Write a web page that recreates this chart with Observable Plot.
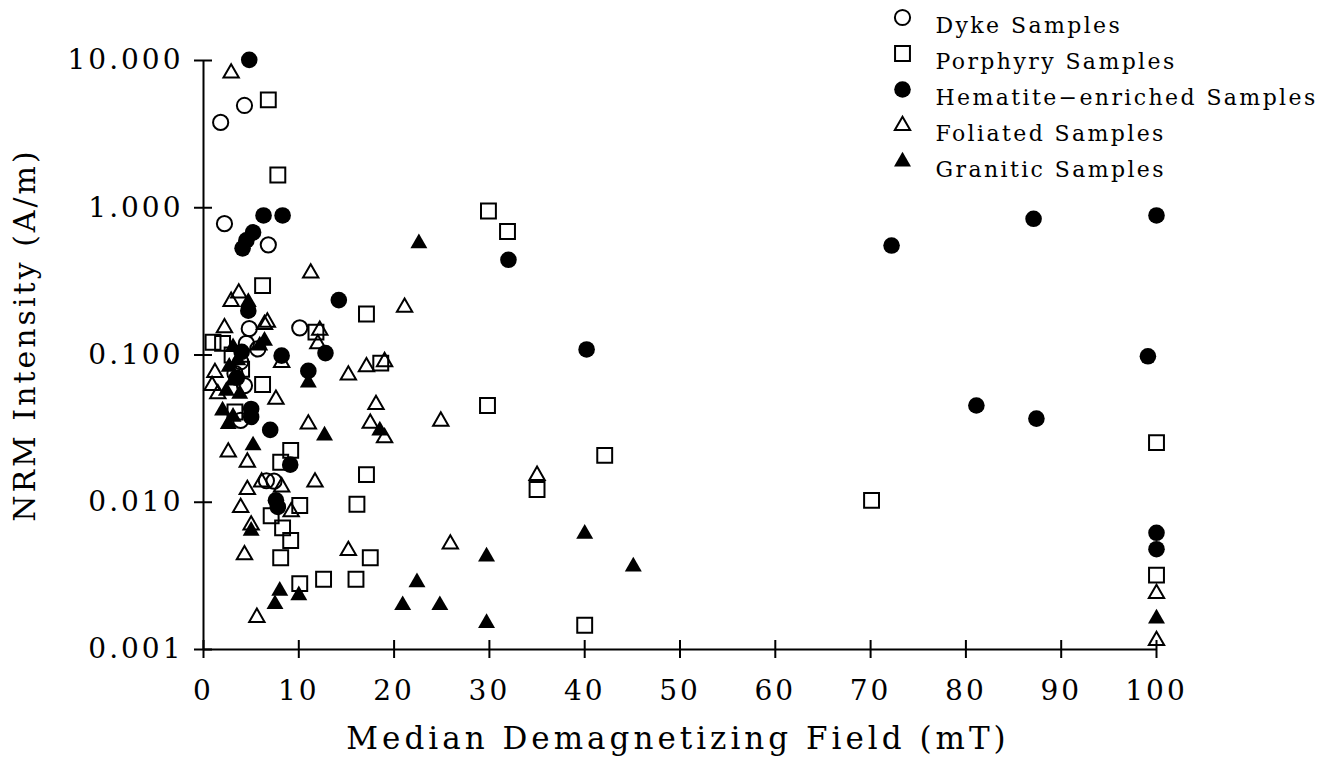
<!DOCTYPE html>
<html><head><meta charset="utf-8">
<script src="https://cdn.jsdelivr.net/npm/d3@7"></script>
<script src="https://cdn.jsdelivr.net/npm/@observablehq/plot@0.6"></script>
<style>
html,body{margin:0;padding:0;background:#fff}
svg{display:block}
</style>
</head><body><div id="chart"></div>
<script>
// [Median demagnetizing field (mT), NRM intensity (A/m)]
const dyke = [[1.8,3.8],[4.3,4.95],[2.2,0.78],[6.8,0.56],[4.8,0.151],[10.1,0.153],[4.5,0.12],[5.7,0.11],
  [3.3,0.075],[3.9,0.09],[4.3,0.062],[3.9,0.036],[6.6,0.014],[7.4,0.0139]];
const porphyry = [[6.8,5.4],[7.8,1.67],[29.9,0.95],[31.9,0.69],[6.2,0.296],[17.1,0.19],[1.0,0.122],[2.0,0.12],
  [11.8,0.143],[18.6,0.088],[6.2,0.063],[3.0,0.1],[4.0,0.08],[3.3,0.041],[29.8,0.0454],[9.15,0.0225],[8.1,0.0187],
  [17.1,0.0154],[42.1,0.0208],[35.0,0.0122],[16.1,0.0097],[10.1,0.0095],[7.1,0.0081],[8.3,0.0067],[9.15,0.0055],
  [8.1,0.0042],[17.5,0.0042],[10.1,0.0028],[12.6,0.003],[16.0,0.003],[40.0,0.00146],[70.1,0.0103],[100,0.0254],[100,0.0032]];
const hematite = [[4.8,10.1],[6.3,0.886],[8.3,0.886],[5.2,0.68],[4.5,0.6],[4.1,0.53],[14.2,0.236],[4.7,0.2],
  [8.2,0.099],[12.8,0.103],[11.0,0.078],[32.0,0.443],[40.2,0.109],[72.2,0.554],[87.1,0.841],[81.1,0.0454],
  [87.4,0.037],[100,0.886],[99.1,0.098],[100,0.0062],[100,0.0048],[5.0,0.038],[7.0,0.031],[9.1,0.018],
  [7.6,0.0103],[7.8,0.0093],[3.5,0.07],[4.0,0.105],[5.0,0.043]];
const foliated = [[2.9,8.2],[11.25,0.36],[2.9,0.231],[3.7,0.263],[6.7,0.167],[6.4,0.161],[2.2,0.153],[12.2,0.147],
  [12.0,0.119],[21.1,0.211],[8.2,0.089],[15.2,0.073],[7.6,0.05],[1.2,0.076],[0.9,0.062],[1.5,0.0545],[17.1,0.083],
  [19.0,0.09],[18.1,0.046],[17.5,0.0344],[19.0,0.0274],[24.9,0.0355],[11.0,0.034],[2.6,0.0219],[4.6,0.0187],
  [11.7,0.0137],[6.1,0.0137],[8.2,0.0127],[4.6,0.0122],[3.9,0.0092],[9.2,0.0086],[5.0,0.007],[4.3,0.0044],
  [5.6,0.00165],[15.2,0.0047],[25.9,0.0052],[35.0,0.0152],[100,0.0024],[100,0.00115]];
const granitic = [[4.7,0.229],[22.6,0.574],[3.1,0.113],[3.6,0.092],[2.7,0.083],[3.1,0.067],[2.4,0.057],[3.8,0.0545],
  [2.0,0.042],[3.1,0.038],[5.9,0.116],[6.4,0.125],[11.0,0.065],[12.7,0.0284],[18.5,0.0307],[5.2,0.0243],[2.6,0.034],
  [5.0,0.0064],[8.0,0.0025],[7.5,0.00203],[10.0,0.00233],[20.9,0.002],[24.8,0.002],[22.4,0.00286],[29.7,0.00428],
  [29.7,0.00151],[40.0,0.0061],[45.1,0.00366],[100,0.00162]];

const xTicks = [0,10,20,30,40,50,60,70,80,90,100];
const yTicks = [0.001,0.01,0.1,1,10];
const seriesNames = ["Dyke Samples","Porphyry Samples","Hematite\u2212enriched Samples","Foliated Samples","Granitic Samples"];
const seriesData = [dyke, porphyry, hematite, foliated, granitic];
const seriesSymbols = ["circle","square","circle","triangle","triangle"];
const seriesFilled = [false,false,true,false,true];

const FONT = "DejaVu Serif";
const markStyle = (i) => {
  const sym = seriesSymbols[i];
  const filled = seriesFilled[i];
  let r = sym === "circle" ? (filled ? 8.3 : 7.6) : sym === "square" ? 8.4 : (filled ? 6.3 : 5.7);
  return filled
    ? {symbol: sym, r, fill: "black", stroke: "none"}
    : {symbol: sym, r, fill: "none", stroke: "black", strokeWidth: 2};
};

const marks = [];
// axes lines
marks.push(Plot.ruleX([0], {y1: 0.001, y2: 10, strokeWidth: 2}));
marks.push(Plot.ruleY([0.001], {x1: 0, x2: 100, strokeWidth: 2}));
// crossing ticks
marks.push(Plot.ruleY(yTicks, {y: d => d, insetLeft: -9, insetRight: 953 - 9, strokeWidth: 2}));
marks.push(Plot.ruleX(xTicks, {x: d => d, insetTop: 589 - 9, insetBottom: -9, strokeWidth: 2}));
// tick labels
marks.push(Plot.text(yTicks, {y: d => d, frameAnchor: "left", dx: -20, textAnchor: "end",
  text: d => d.toFixed(3), fontSize: 28, fontFamily: FONT}));
marks.push(Plot.text(xTicks, {x: d => d, frameAnchor: "bottom", dy: 50, textAnchor: "middle", text: d => String(d),
  fontSize: 28, fontFamily: FONT}));
// axis titles
marks.push(Plot.text(["NRM Intensity (A/m)"], {frameAnchor: "left", dx: -178, dy: -20, rotate: -90,
  textAnchor: "middle", fontSize: 30, fontFamily: FONT}));
marks.push(Plot.text(["Median Demagnetizing Field (mT)"], {frameAnchor: "bottom", dx: -2, dy: 99,
  textAnchor: "middle", fontSize: 31, fontFamily: FONT}));
// data
seriesData.forEach((data, i) => {
  marks.push(Plot.dot(data, {x: d => d[0], y: d => d[1], ...markStyle(i)}));
});
// legend
seriesNames.forEach((name, i) => {
  marks.push(Plot.dot([name], {frameAnchor: "top-left", dx: 699, dy: -43 + 36 * i, ...markStyle(i)}));
  marks.push(Plot.text([name], {frameAnchor: "top-left", dx: 732, dy: -43 + 36 * i, textAnchor: "start",
    fontSize: 22, fontFamily: FONT}));
});

const chart = Plot.plot({
  width: 1329, height: 761,
  marginLeft: 203, marginRight: 173, marginTop: 60, marginBottom: 112,
  x: {domain: [0, 100], axis: null},
  y: {type: "log", domain: [0.001, 10], axis: null},
  style: {fontFamily: FONT, color: "black", background: "white"},
  marks
});
document.getElementById("chart").appendChild(chart);
d3.select(chart).selectAll("text").each(function() {
  const t = this.textContent;
  if (/Samples/.test(t)) this.setAttribute("letter-spacing", "2.4");
  else if (/^[0-9.]+$/.test(t)) this.setAttribute("letter-spacing", "3");
  else if (/Median/.test(t)) this.setAttribute("letter-spacing", "4");
  else this.setAttribute("letter-spacing", "3");
});
</script>
</body></html>
